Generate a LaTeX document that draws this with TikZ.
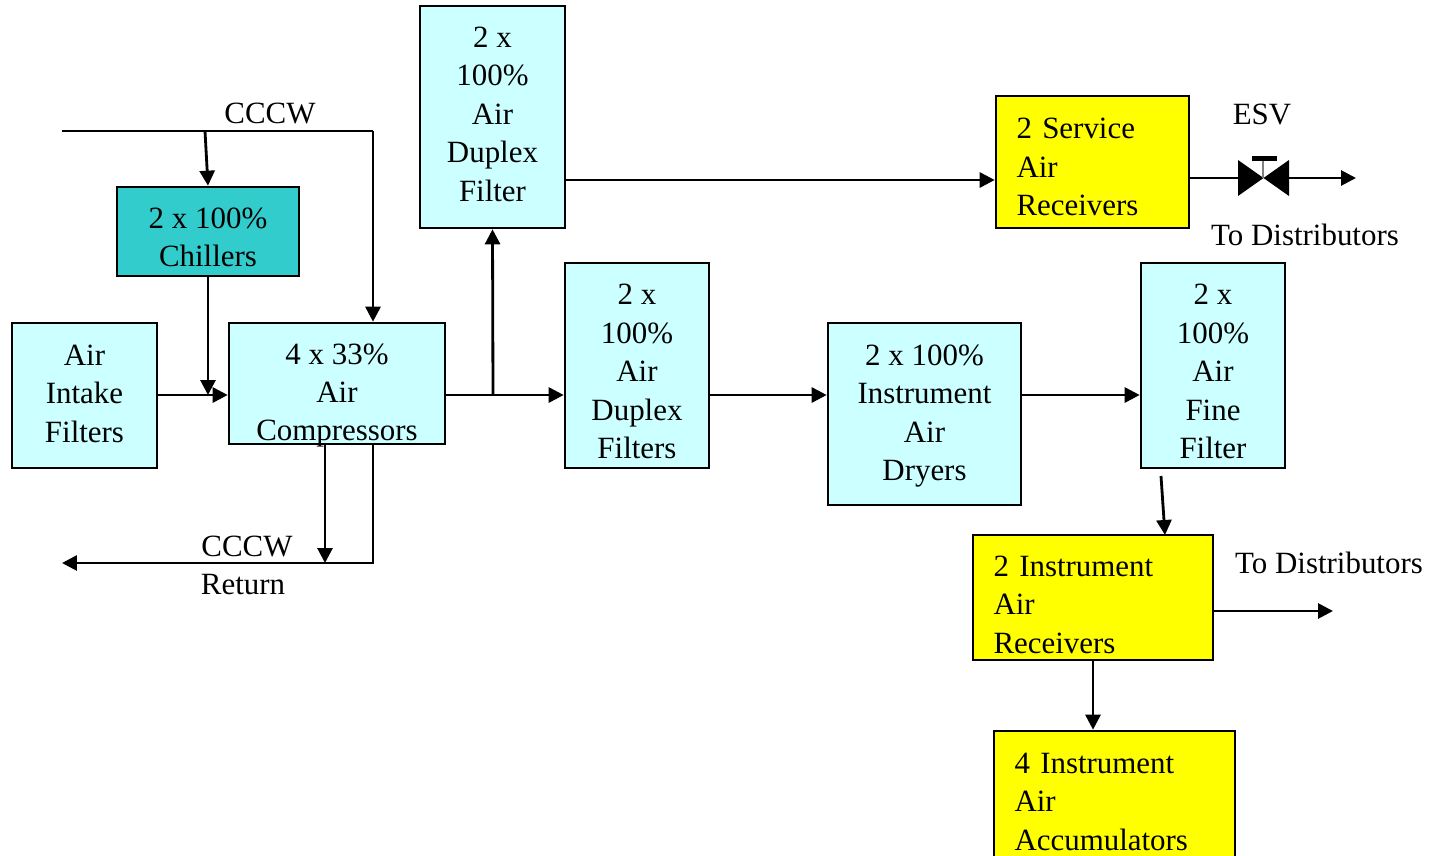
\documentclass[tikz,border=0pt]{standalone}
\usepackage{fontspec}
\setmainfont{Liberation Serif}
\usepackage{tikz}
\usetikzlibrary{arrows.meta}
\definecolor{paleblue}{HTML}{CCFFFF}
\definecolor{chillcol}{HTML}{33CCCC}
\definecolor{recyel}{HTML}{FFFF00}

\begin{document}
\begin{tikzpicture}[x=0.02cm,y=-0.02cm,
    font=\fontsize{17.6}{21.9}\selectfont,
    box/.style={draw,line width=1.5pt,inner sep=0pt,fill=paleblue},
    rbox/.style={box,fill=recyel},
    btxt/.style={align=center,inner sep=0pt},
    rtxt/.style={align=left,inner sep=0pt},
    pipe/.style={line width=1.6pt},
    flow/.style={pipe,-{Triangle[length=0.3cm,width=0.3cm]}}]
    \clip (0,0) rectangle (1438,856);

    % Equipment
    \node[box,minimum width=2.9cm,minimum height=2.9cm,
      label={[btxt,yshift=0.04cm]center:Air\\Intake\\Filters}] (intake) at (84.5,395.5) {};
    \node[box,fill=chillcol,minimum width=3.64cm,minimum height=1.78cm,
      label={[btxt,yshift=-0.12cm]center:2 x 100\%\\Chillers}] (chill) at (208,231.5) {};
    \node[box,minimum width=4.32cm,minimum height=2.42cm,
      label={[btxt,yshift=-0.24cm]center:4 x 33\%\\Air\\Compressors}] (comp) at (337,383.5) {};
    \node[box,minimum width=2.9cm,minimum height=4.44cm,
      label={[btxt,yshift=0.06cm]center:2 x\\100\%\\Air\\Duplex\\Filter}] (dupA) at (492.5,117) {};
    \node[box,minimum width=2.88cm,minimum height=4.1cm,
      label={[btxt,yshift=-0.12cm]center:2 x\\100\%\\Air\\Duplex\\Filters}] (dupB) at (637,365.5) {};
    \node[box,minimum width=3.86cm,minimum height=3.64cm,
      label={[btxt,yshift=-0.04cm]center:2 x 100\%\\Instrument\\Air\\Dryers}] (dryer) at (924.5,414) {};
    \node[box,minimum width=2.88cm,minimum height=4.1cm,
      label={[btxt,yshift=-0.12cm]center:2 x\\100\%\\Air\\Fine\\Filter}] (fine) at (1213,365.5) {};

    % Receivers
    \node[rbox,minimum width=3.86cm,minimum height=2.64cm,
      label={[rtxt,text width=3.04cm,yshift=-0.1cm]center:2 Service\\Air\\Receivers}] (svcrec) at (1092.5,162) {};
    \node[rbox,minimum width=4.8cm,minimum height=2.5cm,
      label={[rtxt,text width=3.98cm,yshift=-0.14cm]center:2 Instrument\\Air\\Receivers}] (insrec) at (1093,597.5) {};
    \node[rbox,minimum width=4.82cm,minimum height=2.58cm,
      label={[rtxt,text width=4.0cm,yshift=-0.12cm]center:4 Instrument\\Air\\Accumulators}] (accum) at (1114.5,795.5) {};

    % Line coordinates
    \coordinate (sup) at (62,131);
    \coordinate (supR) at (373,131);
    \coordinate (supB) at (205,131);
    \coordinate (mainY) at (0,395);
    \coordinate (tee) at (493,395);
    \coordinate (svcY) at (0,180);
    \coordinate (esvL) at (1238,178);
    \coordinate (esvR) at (1289,178);
    \coordinate (esvC) at (1263,178);
    \coordinate (out1) at (1356,178);
    \coordinate (out2) at (1333,611);
    \coordinate (fineOut) at (1161,476);
    \coordinate (insIn) at (1165,535);
    \coordinate (ret) at (62,563);
    \coordinate (retA) at (325,563);

    % CCCW supply
    \draw[pipe] (sup) -- (supR);
    \draw[flow] (supR) -- (comp.north -| supR);
    \draw[flow] (supB) -- (chill.north);
    \draw[flow] (chill.south) -- (chill.south |- mainY);
    \node (lcccw) at (270,113) {CCCW};

    % Main air line
    \draw[flow] (intake.east |- mainY) -- (comp.west |- mainY);
    \draw[flow] (comp.east |- mainY) -- (dupB.west |- mainY);
    \draw[flow] (tee) -- (dupA.south);
    \draw[flow] (dupA.east |- svcY) -- (svcrec.west |- svcY);
    \draw[flow] (dupB.east |- mainY) -- (dryer.west |- mainY);
    \draw[flow] (dryer.east |- mainY) -- (fine.west |- mainY);
    \draw[flow] (fineOut) -- (insIn);
    \draw[flow] (insrec.south) -- (accum.north -| insrec.south);

    % Service air out through ESV
    \draw[pipe] (svcrec.east |- esvL) -- (esvL);
    \fill (1238,160) -- (1238,196) -- (1289,160) -- (1289,196) -- cycle;
    \draw[gray,line width=0.6pt] (esvC) -- (1263,160);
    \fill (1252,156) rectangle (1277,161);
    \draw[flow] (esvR) -- (out1);
    \node (lesv) at (1262,114) {ESV};
    \node (ldist1) at (1305,235) {To Distributors};

    % Instrument air out
    \draw[flow] (insrec.east |- out2) -- (out2);
    \node (ldist2) at (1329,563) {To Distributors};

    % CCCW return
    \draw[flow] (comp.south -| retA) -- (retA);
    \draw[flow] (comp.south -| supR) -- (supR |- ret) -- (ret);
    \node (lret1) at (247,546) {CCCW};
    \node (lret2) at (243,585) {Return};
\end{tikzpicture}
\end{document}
